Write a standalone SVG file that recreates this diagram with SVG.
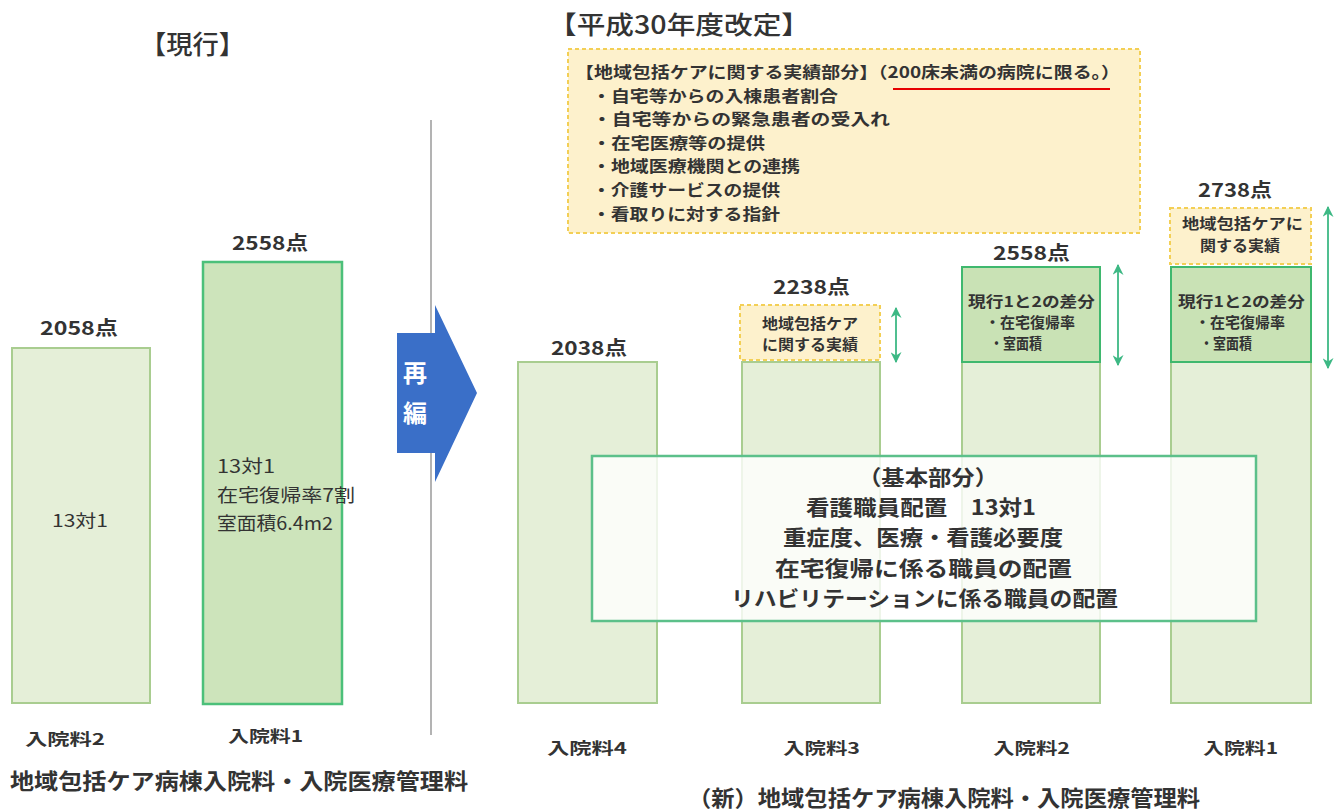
<svg xmlns="http://www.w3.org/2000/svg" width="1344" height="810" viewBox="0 0 1344 810">
<style>
text{font-family:"Noto Sans CJK JP","Noto Sans CJK SC",sans-serif;fill:#333;}
.b{font-weight:bold;}
.light{fill:#e5efd8;stroke:#a9cd90;stroke-width:2;}
.dark{fill:#c9e2b5;stroke:#3fb86e;stroke-width:2;}
.yel{fill:#fdf1cc;stroke:#f3cf55;stroke-width:2;stroke-dasharray:4 3;}
.arr{stroke:#3db884;stroke-width:1.8;fill:none;marker-start:url(#ah);marker-end:url(#ah);}
</style>
<defs>
<marker id="ah" viewBox="0 0 10 10" refX="9" refY="5" markerWidth="11" markerHeight="11" orient="auto-start-reverse" markerUnits="userSpaceOnUse">
<path d="M0,0 L10,5 L0,10 L3,5 Z" fill="#3db884"/>
</marker>
</defs>
<rect width="1344" height="810" fill="#ffffff"/>

<g id="title-current">
<text x="140" y="54" font-size="26" textLength="105" lengthAdjust="spacingAndGlyphs" style="font-weight:500">【現行】</text>
</g>
<g id="title-new">
<text x="548" y="34" font-size="25" textLength="262" lengthAdjust="spacingAndGlyphs" style="font-weight:500">【平成30年度改定】</text>
</g>

<g id="divider">
<line x1="431" y1="120" x2="431" y2="735" stroke="#9a9a9a" stroke-width="1.5"/>
</g>

<g id="old-2">
<text class="b" x="40" y="335" font-size="19" textLength="78" lengthAdjust="spacingAndGlyphs">2058点</text>
<rect class="light" x="12" y="348" width="138" height="355"/>
<text x="52" y="527" font-size="17" textLength="56" lengthAdjust="spacingAndGlyphs">13対1</text>
<text class="b" x="25" y="745" font-size="16" textLength="80" lengthAdjust="spacingAndGlyphs">入院料2</text>
</g>

<g id="old-1">
<text class="b" x="232" y="250" font-size="19" textLength="76" lengthAdjust="spacingAndGlyphs">2558点</text>
<rect x="203" y="262" width="139" height="442" fill="#cde4bb" stroke="#4cc07a" stroke-width="2.5"/>
<text x="217" y="473" font-size="18" textLength="58" lengthAdjust="spacingAndGlyphs">13対1</text>
<text x="217" y="502" font-size="18" textLength="138" lengthAdjust="spacingAndGlyphs">在宅復帰率7割</text>
<text x="217" y="530" font-size="18" textLength="116" lengthAdjust="spacingAndGlyphs">室面積6.4m2</text>
<text class="b" x="228" y="742" font-size="16" textLength="75" lengthAdjust="spacingAndGlyphs">入院料1</text>
</g>

<g id="old-caption">
<text class="b" x="10" y="789" font-size="22" textLength="458" lengthAdjust="spacingAndGlyphs">地域包括ケア病棟入院料・入院医療管理料</text>
</g>

<g id="reorg-arrow">
<path d="M397,333 L435,333 L435,305 L477,393 L435,482 L435,453 L397,453 Z" fill="#3a6fc8"/>
<text class="b" x="415" y="382" font-size="24" style="fill:#ffffff" text-anchor="middle">再</text>
<text class="b" x="415" y="422" font-size="24" style="fill:#ffffff" text-anchor="middle">編</text>
</g>

<g id="results-box">
<rect class="yel" x="568" y="49" width="572" height="184"/>
<text class="b" x="575" y="78" font-size="16" textLength="545" lengthAdjust="spacingAndGlyphs">【地域包括ケアに関する実績部分】（200床未満の病院に限る。）</text>
<line x1="893" y1="89" x2="1110" y2="89" stroke="#e60000" stroke-width="2"/>
<text class="b" x="592" y="102" font-size="16" textLength="246" lengthAdjust="spacingAndGlyphs">・自宅等からの入棟患者割合</text>
<text class="b" x="592" y="125" font-size="16" textLength="298" lengthAdjust="spacingAndGlyphs">・自宅等からの緊急患者の受入れ</text>
<text class="b" x="592" y="149" font-size="16" textLength="173" lengthAdjust="spacingAndGlyphs">・在宅医療等の提供</text>
<text class="b" x="592" y="172" font-size="16" textLength="208" lengthAdjust="spacingAndGlyphs">・地域医療機関との連携</text>
<text class="b" x="592" y="196" font-size="16" textLength="188" lengthAdjust="spacingAndGlyphs">・介護サービスの提供</text>
<text class="b" x="592" y="220" font-size="16" textLength="188" lengthAdjust="spacingAndGlyphs">・看取りに対する指針</text>
</g>

<g id="new-4">
<text class="b" x="551" y="355" font-size="19" textLength="76" lengthAdjust="spacingAndGlyphs">2038点</text>
<rect class="light" x="518" y="362" width="139" height="341"/>
<text class="b" x="547" y="754" font-size="16" textLength="80" lengthAdjust="spacingAndGlyphs">入院料4</text>
</g>

<g id="new-3">
<text class="b" x="773" y="294" font-size="19" textLength="77" lengthAdjust="spacingAndGlyphs">2238点</text>
<rect class="yel" x="740" y="305" width="140" height="55"/>
<text class="b" x="762" y="329" font-size="15" textLength="96" lengthAdjust="spacingAndGlyphs">地域包括ケア</text>
<text class="b" x="762" y="350" font-size="15" textLength="96" lengthAdjust="spacingAndGlyphs">に関する実績</text>
<rect class="light" x="742" y="362" width="138" height="341"/>
<text class="b" x="783" y="754" font-size="16" textLength="77" lengthAdjust="spacingAndGlyphs">入院料3</text>
</g>

<g id="new-2">
<text class="b" x="993" y="260" font-size="19" textLength="77" lengthAdjust="spacingAndGlyphs">2558点</text>
<rect class="light" x="962" y="362" width="138" height="341"/>
<rect class="dark" x="962" y="267" width="138" height="95"/>
<text class="b" x="968" y="307" font-size="15" textLength="127" lengthAdjust="spacingAndGlyphs">現行1と2の差分</text>
<text class="b" x="985" y="328" font-size="15" textLength="90" lengthAdjust="spacingAndGlyphs">・在宅復帰率</text>
<text class="b" x="990" y="349" font-size="15" textLength="52" lengthAdjust="spacingAndGlyphs">・室面積</text>
<text class="b" x="993" y="754" font-size="16" textLength="77" lengthAdjust="spacingAndGlyphs">入院料2</text>
</g>

<g id="new-1">
<text class="b" x="1198" y="197" font-size="19" textLength="74" lengthAdjust="spacingAndGlyphs">2738点</text>
<rect class="yel" x="1170" y="208" width="141" height="56"/>
<text class="b" x="1182" y="229" font-size="15" textLength="121" lengthAdjust="spacingAndGlyphs">地域包括ケアに</text>
<text class="b" x="1200" y="251" font-size="15" textLength="80" lengthAdjust="spacingAndGlyphs">関する実績</text>
<rect class="light" x="1171" y="362" width="140" height="341"/>
<rect class="dark" x="1171" y="267" width="140" height="95"/>
<text class="b" x="1178" y="307" font-size="15" textLength="127" lengthAdjust="spacingAndGlyphs">現行1と2の差分</text>
<text class="b" x="1195" y="328" font-size="15" textLength="90" lengthAdjust="spacingAndGlyphs">・在宅復帰率</text>
<text class="b" x="1200" y="349" font-size="15" textLength="52" lengthAdjust="spacingAndGlyphs">・室面積</text>
<text class="b" x="1203" y="754" font-size="16" textLength="75" lengthAdjust="spacingAndGlyphs">入院料1</text>
</g>

<g id="base-box">
<rect x="592" y="456" width="664" height="165" fill="#ffffff" fill-opacity="0.8" stroke="#5cc08a" stroke-width="2.5"/>
<text class="b" x="858" y="485" font-size="21" textLength="140" lengthAdjust="spacingAndGlyphs">（基本部分）</text>
<text class="b" x="806" y="515" font-size="21" textLength="230" lengthAdjust="spacingAndGlyphs">看護職員配置　13対1</text>
<text class="b" x="783" y="545" font-size="21" textLength="280" lengthAdjust="spacingAndGlyphs">重症度、医療・看護必要度</text>
<text class="b" x="775" y="576" font-size="21" textLength="297" lengthAdjust="spacingAndGlyphs">在宅復帰に係る職員の配置</text>
<text class="b" x="731" y="606" font-size="21" textLength="387" lengthAdjust="spacingAndGlyphs">リハビリテーションに係る職員の配置</text>
</g>

<g id="new-caption">
<text class="b" x="688" y="806" font-size="22" textLength="512" lengthAdjust="spacingAndGlyphs">（新）地域包括ケア病棟入院料・入院医療管理料</text>
</g>

<g id="connectors">
<line class="arr" x1="896" y1="308" x2="896" y2="362"/>
<line class="arr" x1="1118" y1="265" x2="1118" y2="365"/>
<line class="arr" x1="1328" y1="207" x2="1328" y2="368"/>
</g>
</svg>
